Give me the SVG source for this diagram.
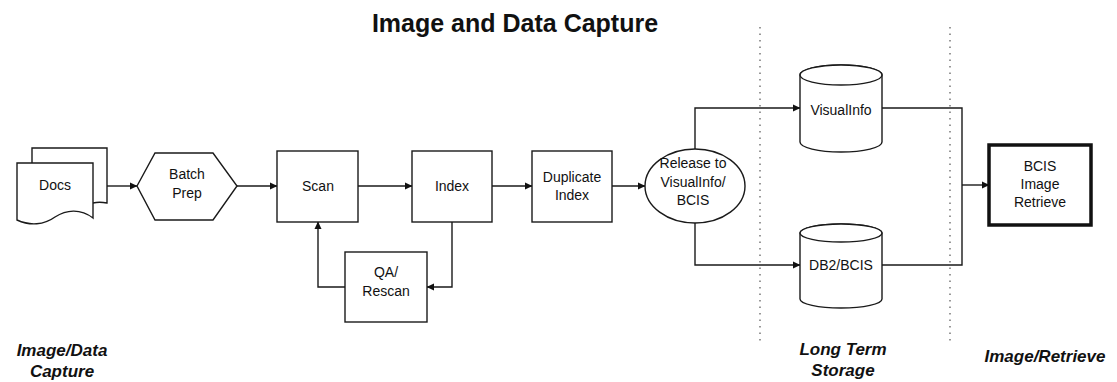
<svg xmlns="http://www.w3.org/2000/svg" width="1117" height="382" viewBox="0 0 1117 382">
<defs>
<marker id="arr" markerWidth="8" markerHeight="8" refX="7" refY="4" orient="auto" markerUnits="userSpaceOnUse">
<path d="M0,0.5 L7.5,4 L0,7.5 Z" fill="#111"/>
</marker>
</defs>
<style>
.s{fill:#fff;stroke:#1a1a1a;stroke-width:1.4}
.t{font-family:"Liberation Sans",Arial,sans-serif;font-size:14px;fill:#111;text-anchor:middle}
.h{font-family:"Liberation Sans",Arial,sans-serif;font-size:25px;font-weight:bold;fill:#111;text-anchor:middle}
.l{font-family:"Liberation Sans",Arial,sans-serif;font-size:17px;font-weight:bold;font-style:italic;fill:#111;text-anchor:middle}
.c{fill:none;stroke:#1a1a1a;stroke-width:1.4}
.d{fill:none;stroke:#555;stroke-width:1.2;stroke-dasharray:1.5 5}
</style>
<rect width="1117" height="382" fill="#fff"/>
<text class="h" x="515" y="32">Image and Data Capture</text>
<g id="dividers">
<line class="d" x1="760" y1="27" x2="760" y2="345"/>
<line class="d" x1="950" y1="27" x2="950" y2="345"/>
</g>
<g id="connectors">
<path class="c" d="M107,186 H137" marker-end="url(#arr)"/>
<path class="c" d="M237,186 H277" marker-end="url(#arr)"/>
<path class="c" d="M358,186 H412" marker-end="url(#arr)"/>
<path class="c" d="M492,186 H532" marker-end="url(#arr)"/>
<path class="c" d="M612,186 H645" marker-end="url(#arr)"/>
<path class="c" d="M695,149 V108 H800" marker-end="url(#arr)"/>
<path class="c" d="M695,223 V265 H800" marker-end="url(#arr)"/>
<path class="c" d="M452,222 V287 H427" marker-end="url(#arr)"/>
<path class="c" d="M345,287 H318 V222" marker-end="url(#arr)"/>
<path class="c" d="M882,108 H962 V265 H881"/>
<path class="c" d="M962,185 H989" marker-end="url(#arr)"/>
</g>
<g id="docs">
<path class="s" d="M32,163 V148 H107 V203 C102,202 97,202 93,203"/>
<path class="s" d="M17,163 H93 V218 C80,208 66,210 55,217 C44,225 30,226 17,220 Z"/>
<text class="t" x="55" y="190">Docs</text>
</g>
<g id="batch-prep">
<polygon class="s" points="137,186 155,153 213,153 237,186 213,220 155,220"/>
<text class="t" x="187" y="179">Batch</text>
<text class="t" x="187" y="198">Prep</text>
</g>
<g id="scan">
<rect class="s" x="277" y="151" width="81" height="71"/>
<text class="t" x="318" y="191">Scan</text>
</g>
<g id="index">
<rect class="s" x="412" y="151" width="80" height="71"/>
<text class="t" x="452" y="191">Index</text>
</g>
<g id="duplicate-index">
<rect class="s" x="532" y="151" width="80" height="71"/>
<text class="t" x="572" y="182">Duplicate</text>
<text class="t" x="572" y="200">Index</text>
</g>
<g id="qa-rescan">
<rect class="s" x="345" y="252" width="82" height="70"/>
<text class="t" x="386" y="277">QA/</text>
<text class="t" x="386" y="296">Rescan</text>
</g>
<g id="release">
<ellipse class="s" cx="695" cy="186" rx="50" ry="37"/>
<text class="t" x="693" y="168">Release to</text>
<text class="t" x="693" y="187">VisualInfo/</text>
<text class="t" x="693" y="205">BCIS</text>
</g>
<g id="visualinfo">
<path class="s" d="M800,75 A41,10 0 0 1 882,75 V142 A41,10 0 0 1 800,142 Z"/>
<ellipse class="s" cx="841" cy="75" rx="41" ry="10"/>
<text class="t" x="841" y="115">VisualInfo</text>
</g>
<g id="db2-bcis">
<path class="s" d="M800,233 A41,9 0 0 1 882,233 V299 A41,9 0 0 1 800,299 Z"/>
<ellipse class="s" cx="841" cy="233" rx="41" ry="9"/>
<text class="t" x="841" y="270">DB2/BCIS</text>
</g>
<g id="bcis-image-retrieve">
<rect x="989" y="145" width="102" height="80" fill="#fff" stroke="#111" stroke-width="3.5"/>
<text class="t" x="1040" y="171">BCIS</text>
<text class="t" x="1040" y="189">Image</text>
<text class="t" x="1040" y="207">Retrieve</text>
</g>
<g id="labels">
<text class="l" x="62" y="356">Image/Data</text>
<text class="l" x="62" y="377">Capture</text>
<text class="l" x="843" y="355">Long Term</text>
<text class="l" x="843" y="376">Storage</text>
<text class="l" x="1045" y="362">Image/Retrieve</text>
</g>
</svg>
